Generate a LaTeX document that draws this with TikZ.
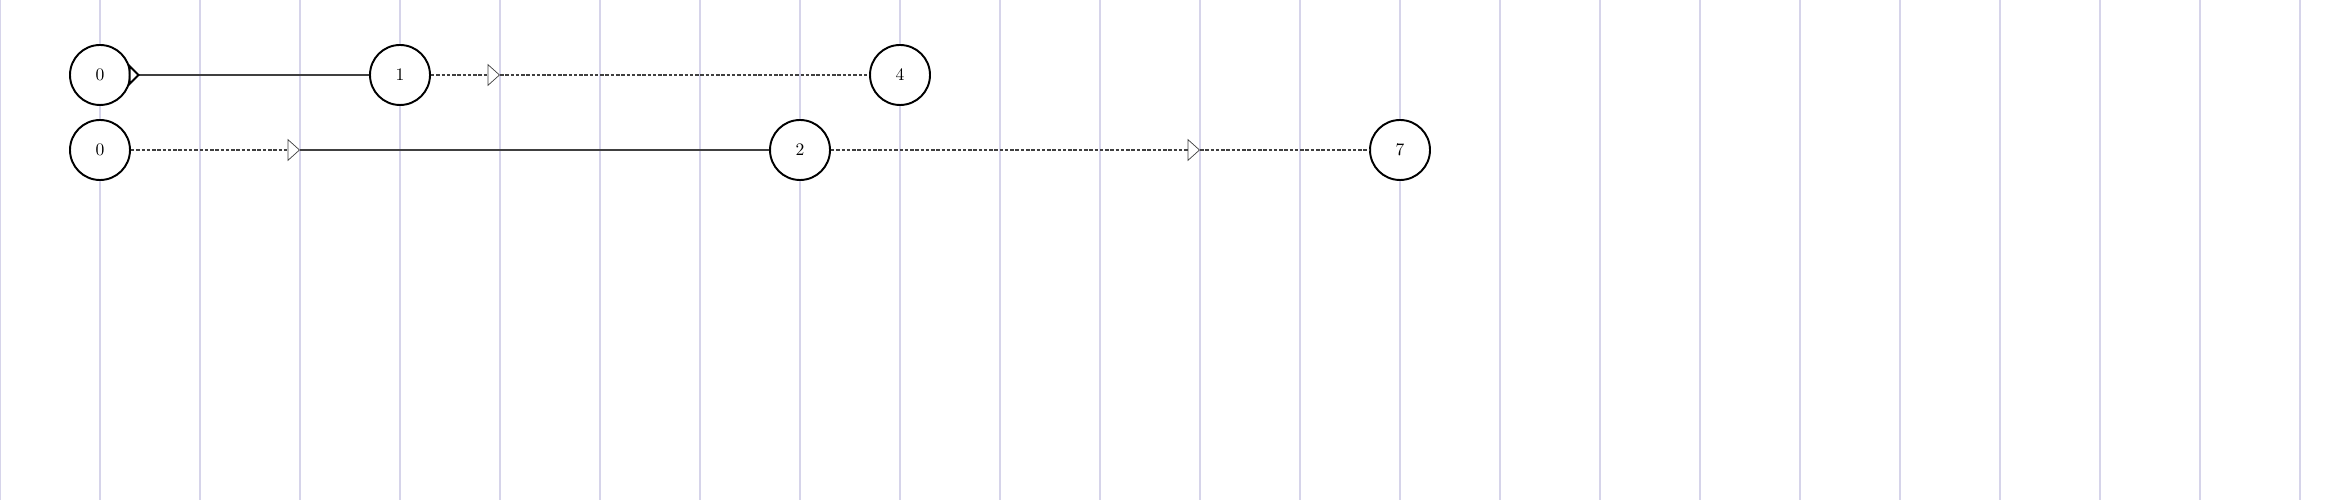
\documentclass[tikz,border=0pt]{standalone}
\usepackage{tikz}
\usetikzlibrary{automata,positioning,arrows.meta}

\definecolor{gridcol}{RGB}{214,212,234}
\definecolor{edgecol}{RGB}{64,64,64}

\begin{document}
\begin{tikzpicture}[x=2cm,y=2cm,auto,
    every state/.style={draw,circle,minimum size=1.2cm,inner sep=0pt,line width=1.1pt,fill=white},
    gridline/.style={draw=gridcol,line width=1.1pt},
    busy/.style={draw=edgecol,line width=0.85pt},
    idle/.style={draw=edgecol,line width=0.85pt,dash pattern=on 2pt off 1pt},
    tip/.style={-{Triangle[length=7pt,width=12.5pt,fill=white,line width=0.4pt]}},
    boldtip/.style={-{Triangle[length=6.5pt,width=12.5pt,fill=white,line width=1.1pt]}}]
    \useasboundingbox (0,0) rectangle (23.5,-5);
    \foreach \x in {0,...,23}
        \draw[gridline] (\x,0) -- (\x,-5);

    \node[state] (a0) at (1,-0.75) {0};
    \node[state] (a1) at (4,-0.75) {1};
    \node[state] (a4) at (9,-0.75) {4};
    \node[state] (b0) at (1,-1.5) {0};
    \node[state] (b2) at (8,-1.5) {2};
    \node[state] (b7) at (14,-1.5) {7};

    \coordinate (ta) at (1.4,-0.75);
    \coordinate (tb) at (5,-0.75);
    \coordinate (tc) at (3,-1.5);
    \coordinate (td) at (12,-1.5);

    \path[busy] (a0) edge (a1);
    \path[boldtip,draw=black] (a0) edge (ta);
    \path[idle] (a1) edge[tip] (tb)
        (tb) edge (a4);
    \path[idle] (b0) edge[tip] (tc)
        (b2) edge[tip] (td)
        (td) edge (b7);
    \path[busy] (tc) edge (b2);
\end{tikzpicture}
\end{document}
